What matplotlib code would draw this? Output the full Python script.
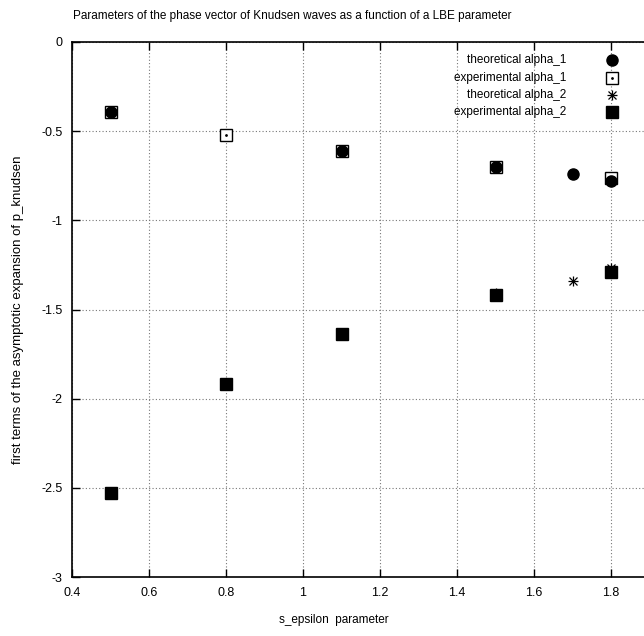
import matplotlib
matplotlib.use("Agg")
from matplotlib import pyplot as plt

# Data
s_eps_theo1 = [0.5, 1.1, 1.5, 1.7, 1.8]
alpha1_theo = [-0.39, -0.61, -0.70, -0.74, -0.78]
s_eps_exp1 = [0.5, 0.8, 1.1, 1.5, 1.8]
alpha1_exp = [-0.39, -0.52, -0.61, -0.70, -0.76]
s_eps_theo2 = [0.5, 0.8, 1.1, 1.5, 1.7, 1.8]
alpha2_theo = [-2.53, -1.92, -1.64, -1.41, -1.34, -1.27]
s_eps_exp2 = [0.5, 0.8, 1.1, 1.5, 1.8]
alpha2_exp = [-2.53, -1.92, -1.64, -1.42, -1.29]

x_ticks = [0.4, 0.6, 0.8, 1.0, 1.2, 1.4, 1.6, 1.8]
x_labels = ['0.4', '0.6', '0.8', '1', '1.2', '1.4', '1.6', '1.8']
y_ticks = [0, -0.5, -1, -1.5, -2, -2.5, -3]
y_labels = ['0', '-0.5', '-1', '-1.5', '-2', '-2.5', '-3']
labels = ['theoretical alpha_1', 'experimental alpha_1',
          'theoretical alpha_2', 'experimental alpha_2']


def star(ax_or_fig, x, y, ms, **kw):
    # gnuplot "*" point: a plus and a cross on top of each other
    a = ax_or_fig.plot(x, y, ls='none', marker='+', ms=ms, mec='black', mew=0.9, **kw)
    b = ax_or_fig.plot(x, y, ls='none', marker='x', ms=ms * 0.8, mec='black', mew=0.9, **kw)
    return a + b


def main():
    plt.rcParams['font.family'] = ['Liberation Sans', 'DejaVu Sans']
    fs = 8.5
    W, H = 644, 636
    fig = plt.figure(figsize=(W / 100, H / 100), dpi=100)

    # axes: x 0.4 at px 72, 385 px per unit; y 0 at px 42, -3 at px 577
    left, top, bottom = 72, 42, 577
    width = 1.6 * 385
    ax = fig.add_axes([left / W, (H - bottom) / H, width / W, (bottom - top) / H])
    ax.set_xlim(0.4, 2.0)
    ax.set_ylim(-3, 0)

    ax.set_xticks(x_ticks)
    ax.set_xticklabels(x_labels)
    ax.set_yticks(y_ticks)
    ax.set_yticklabels(y_labels)
    ax.tick_params(direction='in', length=6, width=1, labelsize=9,
                   top=True, right=False, pad=7)
    ax.grid(True, linestyle=(0, (1, 2)), color='#777777', linewidth=0.8)
    for s in ax.spines.values():
        s.set_linewidth(1.2)

    ms = 8
    ax.plot(s_eps_exp1, alpha1_exp, ls='none', marker='s', ms=ms + 1,
            mfc='white', mec='black', mew=1, zorder=3)
    ax.plot(s_eps_exp1, alpha1_exp, ls='none', marker='.', ms=2,
            color='black', zorder=3)
    ax.plot(s_eps_theo1, alpha1_theo, ls='none', marker='o', ms=ms,
            color='black', zorder=4)
    star(ax, s_eps_theo2, alpha2_theo, 7, zorder=3)
    ax.plot(s_eps_exp2, alpha2_exp, ls='none', marker='s', ms=ms + 1,
            color='black', zorder=4)

    # gnuplot style key
    key_y = [60, 78, 95, 112]
    kx = 612 / W
    for lab, yy in zip(labels, key_y):
        fig.text(566 / W, 1 - yy / H, lab, ha='right', va='center', fontsize=fs)
    ky = [1 - yy / H for yy in key_y]
    fig.add_artist(plt.Line2D([kx], [ky[0]], ls='none', marker='o', ms=ms,
                              color='black', transform=fig.transFigure))
    fig.add_artist(plt.Line2D([kx], [ky[1]], ls='none', marker='s', ms=ms,
                              mfc='white', mec='black', mew=1, transform=fig.transFigure))
    fig.add_artist(plt.Line2D([kx], [ky[1]], ls='none', marker='.', ms=2,
                              color='black', transform=fig.transFigure))
    fig.add_artist(plt.Line2D([kx], [ky[2]], ls='none', marker='+', ms=7,
                              mec='black', mew=0.9, transform=fig.transFigure))
    fig.add_artist(plt.Line2D([kx], [ky[2]], ls='none', marker='x', ms=5.6,
                              mec='black', mew=0.9, transform=fig.transFigure))
    fig.add_artist(plt.Line2D([kx], [ky[3]], ls='none', marker='s', ms=ms,
                              color='black', transform=fig.transFigure))

    fig.text(292 / W, 1 - 16 / H, 'Parameters of the phase vector of Knudsen waves as a function of a LBE parameter',
             ha='center', va='center', fontsize=fs)
    fig.text(334 / W, 1 - 620 / H, 's_epsilon  parameter', ha='center',
             va='center', fontsize=fs)
    fig.text(18 / W, 1 - 310 / H, 'first terms of the asymptotic expansion of p_knudsen',
             ha='center', va='center', rotation=90, fontsize=9.5)

    fig.savefig('out.png', dpi=100)


if __name__ == '__main__':
    main()
